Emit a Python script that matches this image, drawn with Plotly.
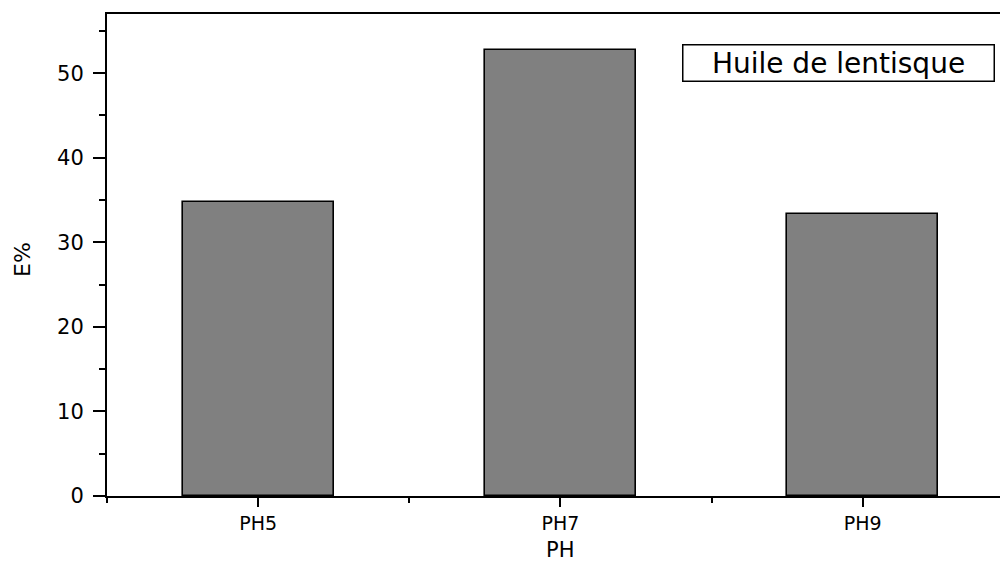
import plotly.graph_objects as go

# Extraction efficiency (E%) for each pH condition
categories = ["PH5", "PH7", "PH9"]
e_percent = [34.8, 52.7, 33.4]
legend_label = "Huile de lentisque"
x_title = "PH"
y_title = "E%"
y_ticks = [0, 10, 20, 30, 40, 50]

positions = list(range(len(categories)))
font_family = "DejaVu Sans, Liberation Sans, Arial, sans-serif"

fig = go.Figure()
fig.add_trace(go.Bar(
    x=positions,
    y=e_percent,
    width=0.5,
    marker=dict(color="#808080", line=dict(color="#000000", width=1.6)),
    showlegend=False,
))

fig.update_layout(
    width=1000,
    height=563,
    margin=dict(l=107, r=0, t=14, b=67),
    paper_bgcolor="white",
    plot_bgcolor="white",
    font=dict(family=font_family, color="black"),
    bargap=0,
)

fig.update_xaxes(
    range=[-0.5, 2.454],
    tickmode="array",
    tickvals=positions,
    ticktext=categories,
    ticks="outside",
    ticklen=9,
    tickwidth=2,
    tickcolor="black",
    ticklabelstandoff=0,
    tickfont=dict(size=19),
    showline=True,
    linecolor="black",
    linewidth=2,
    mirror=True,
    showgrid=False,
    zeroline=False,
    minor=dict(tickmode="array", tickvals=[-0.5, 0.5, 1.5], ticks="outside",
               ticklen=5, tickwidth=2, tickcolor="black", showgrid=False),
)

fig.update_yaxes(
    range=[0, 57],
    tickmode="array",
    tickvals=y_ticks,
    ticks="outside",
    ticklen=12,
    tickwidth=2,
    tickcolor="black",
    ticklabelstandoff=5,
    tickfont=dict(size=21),
    showline=True,
    linecolor="black",
    linewidth=2,
    showgrid=False,
    zeroline=False,
    minor=dict(tickmode="array", tickvals=[5, 15, 25, 35, 45, 55], ticks="outside",
               ticklen=6, tickwidth=2, tickcolor="black", showgrid=False),
)

# Legend-style label box in the upper right
fig.add_annotation(
    text=legend_label,
    xref="paper", yref="paper",
    x=0.9944, y=0.9386,
    xanchor="right", yanchor="top",
    showarrow=False,
    width=308, height=33,
    font=dict(size=28, family=font_family, color="black"),
    bordercolor="black", borderwidth=1.5, borderpad=1,
    bgcolor="white",
)

# Axis titles
fig.add_annotation(
    text=x_title,
    xref="x", yref="paper",
    x=1, y=-0.1116,
    xanchor="center", yanchor="middle",
    showarrow=False,
    font=dict(size=21, family=font_family, color="black"),
)
fig.add_annotation(
    text=y_title,
    xref="paper", yref="paper",
    x=-0.094, y=0.49,
    xanchor="center", yanchor="middle",
    textangle=-90,
    showarrow=False,
    font=dict(size=22, family=font_family, color="black"),
)

fig.write_html("out.html")
